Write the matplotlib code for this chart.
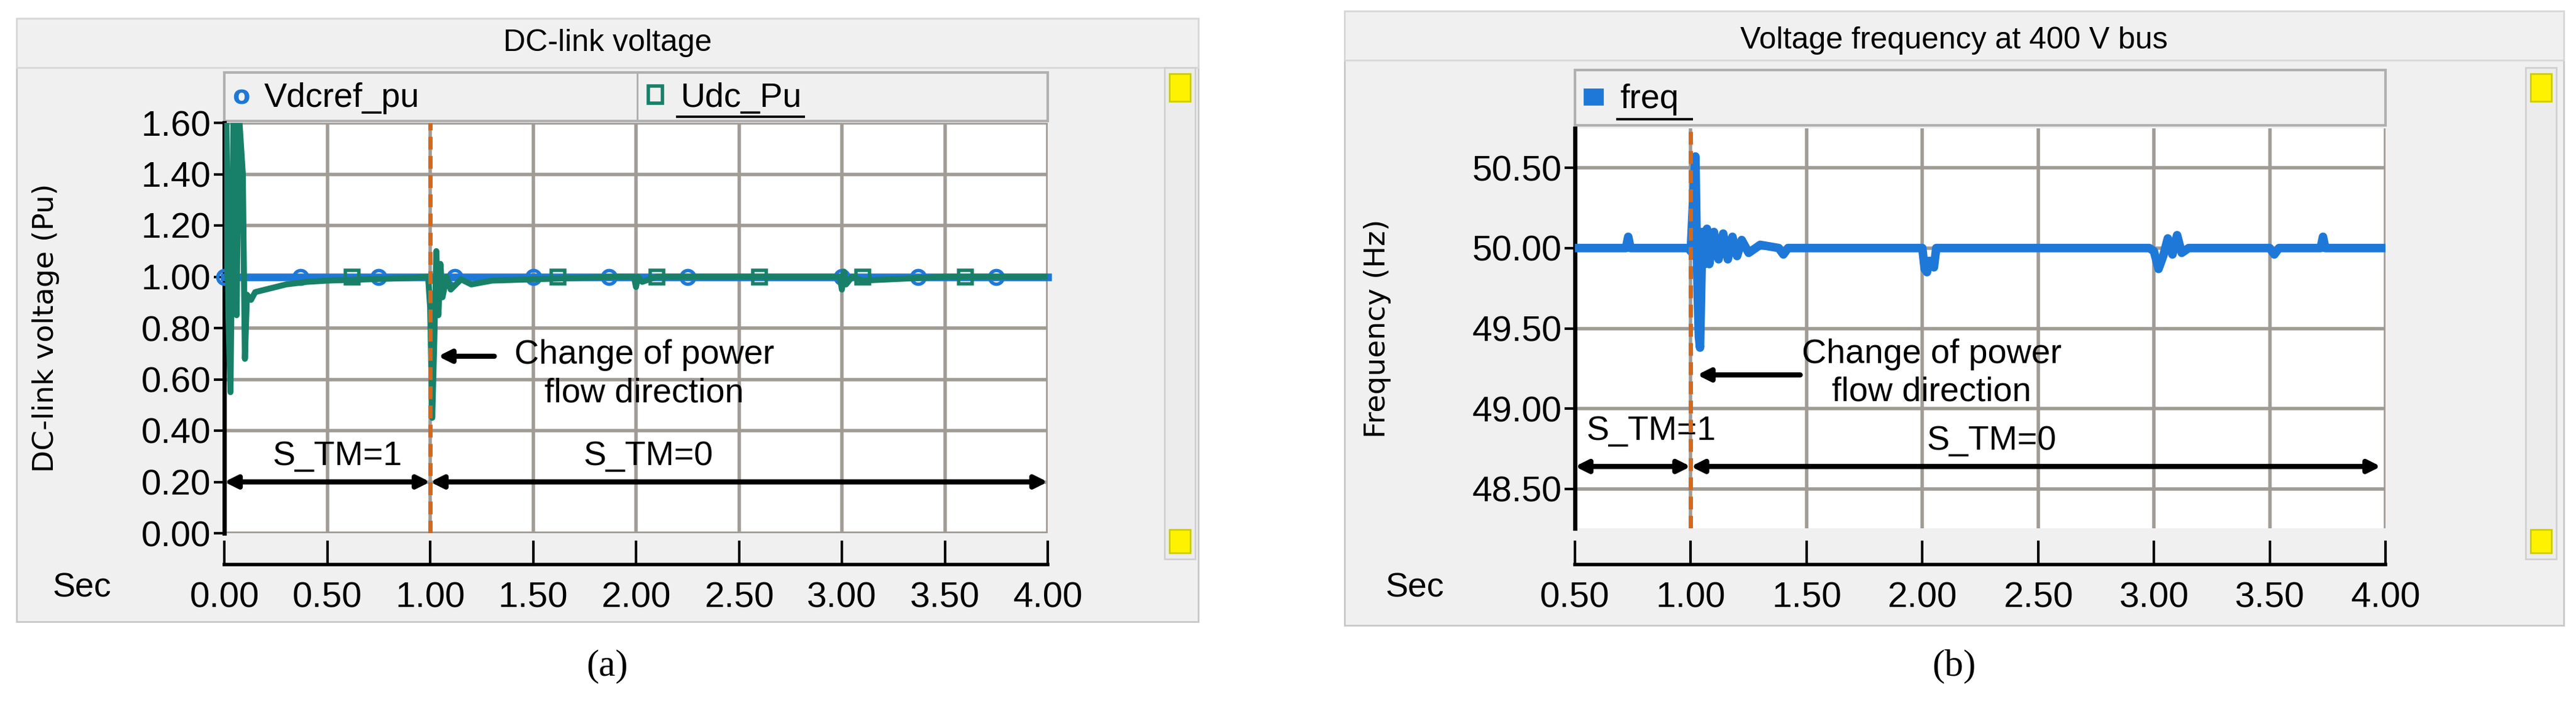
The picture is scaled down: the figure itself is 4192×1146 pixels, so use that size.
import matplotlib
matplotlib.use("Agg")
import matplotlib.pyplot as plt
from matplotlib.patches import Rectangle
import numpy as np

W, H = 4192, 1146
fig = plt.figure(figsize=(W/100, H/100), dpi=100)
fig.patch.set_facecolor("white")

NARROW = ["Liberation Sans", "DejaVu Sans"]
BG = "#f0f0f0"; GRID = "#a19b95"; BLUE = "#1e78d8"; TEAL = "#188068"; ORANGE = "#d2691e"

# ---------------- data ----------------
a_xticks = [0.0, 0.5, 1.0, 1.5, 2.0, 2.5, 3.0, 3.5, 4.0]
a_yticks = [0.0, 0.2, 0.4, 0.6, 0.8, 1.0, 1.2, 1.4, 1.6]
vref_t = [0.0, 4.0]
vref_v = [1.0, 1.0]
vref_mark_t = [0.0, 0.37, 0.75, 1.12, 1.5, 1.87, 2.25, 3.0, 3.37, 3.75]
udc_t = [0.0, 0.01, 0.02, 0.03, 0.045, 0.06, 0.07, 0.09, 0.1, 0.11, 0.13, 0.15, 0.2, 0.25, 0.3, 0.4, 0.5, 0.7, 0.9,
         0.99, 1.0, 1.01, 1.02, 1.03, 1.04, 1.05, 1.06, 1.08, 1.1, 1.15, 1.2, 1.3, 1.5, 1.7, 1.9,
         1.99, 2.0, 2.01, 2.03, 2.1, 2.5, 2.99, 3.0, 3.01, 3.02, 3.05, 3.1, 3.5, 4.0]
udc_v = [1.0, 1.65, 0.85, 0.55, 1.65, 0.85, 1.65, 1.4, 0.68, 0.93, 0.91, 0.94, 0.95, 0.96, 0.97, 0.98, 0.985, 0.99, 0.995,
         1.0, 0.88, 0.45, 0.75, 1.10, 0.85, 1.05, 0.92, 1.0, 0.95, 0.99, 0.97, 0.985, 0.99, 0.995, 1.0,
         1.0, 0.96, 1.0, 0.98, 1.0, 1.0, 1.0, 0.95, 1.02, 0.97, 1.0, 0.985, 1.0, 1.0]
udc_mark_t = [0.62, 1.62, 2.1, 2.6, 3.1, 3.6]

b_xticks = [0.5, 1.0, 1.5, 2.0, 2.5, 3.0, 3.5, 4.0]
b_yticks = [48.5, 49.0, 49.5, 50.0, 50.5]
freq_t = [0.5, 0.72, 0.73, 0.74, 0.99, 1.0, 1.01, 1.02, 1.025, 1.03, 1.035, 1.04, 1.05, 1.06, 1.07, 1.08,
          1.1, 1.12, 1.14, 1.16, 1.18, 1.2, 1.22, 1.25, 1.3, 1.38, 1.4, 1.42, 1.5,
          2.0, 2.01, 2.02, 2.03, 2.05, 2.06, 2.1, 2.98, 3.0, 3.02, 3.04, 3.06, 3.08, 3.1, 3.12, 3.15,
          3.5, 3.52, 3.54, 3.72, 3.73, 3.74, 4.0]
freq_v = [50.0, 50.0, 50.07, 50.0, 50.0, 49.98, 50.3, 50.57, 50.1, 49.7, 49.45, 49.38, 50.1, 49.9, 50.12, 49.9,
          50.1, 49.93, 50.09, 49.93, 50.07, 49.95, 50.05, 49.97, 50.02, 50.0, 49.96, 50.0, 50.0,
          50.0, 49.87, 49.85, 49.92, 49.88, 50.0, 50.0, 50.0, 49.98, 49.87, 49.95, 50.06, 49.96, 50.08, 49.97, 50.0,
          50.0, 49.96, 50.0, 50.0, 50.07, 50.0, 50.0]

def fx(px): return px / W
def fy(py): return 1 - py / H

def box(x0, y0, x1, y1, fc=BG, ec="#c8c8c8", lw=2, z=-10):
    fig.patches.append(Rectangle((fx(x0), fy(y1)), fx(x1) - fx(x0), fy(y0) - fy(y1),
                                 transform=fig.transFigure, facecolor=fc, edgecolor=ec, lw=lw, zorder=z))

def panel(x0, x1, y0, y1, ax_l, ax_r, ax_t, ax_b, leg_t, leg_b, sb_l, title, title_y, sec_x, lbl, lbl_x,
          strip_y, ylabel, ylabel_x):
    box(x0, y0, x1, y1)
    box(x0, y0, x1, y0 + 80, fc=BG, ec="#d8d8d8")
    fig.text(fx((x0 + x1) / 2), fy(title_y), title, ha="center", va="center", fontsize=36, family=NARROW)
    box(sb_l, 110, sb_l + 50, 910, fc="#ececec", ec="#d0d0d0")
    box(sb_l + 8, 120, sb_l + 42, 165, fc="#fff200", ec="#cccc00")
    box(sb_l + 8, 862, sb_l + 42, 900, fc="#fff200", ec="#cccc00")
    box(ax_l, leg_t, ax_r, leg_b, fc=BG, ec="#b0b0b0", lw=3)
    ax = fig.add_axes([fx(ax_l), fy(ax_b), fx(ax_r) - fx(ax_l), fy(ax_t) - fy(ax_b)])
    ax.set_zorder(5)
    ax.set_facecolor("white")
    sx = fig.add_axes([fx(ax_l), fy(strip_y + 2), fx(ax_r) - fx(ax_l), 0.001])
    sx.set_zorder(5)
    sx.set_facecolor("none")
    for s in ["top", "left", "right"]:
        sx.spines[s].set_visible(False)
    sx.spines["bottom"].set_linewidth(4)
    sx.set_yticks([])
    sx.tick_params(axis="x", direction="in", length=28, width=3, labelsize=42, pad=20)
    fig.text(fx(sec_x), fy(strip_y + 40), "Sec", fontsize=40, family=NARROW, ha="center", va="center")
    fig.text(fx((x0 + x1) / 2), fy(1085), lbl, fontsize=44, family="Liberation Serif", ha="center", va="center")
    fig.text(fx(ylabel_x), fy((ax_t + ax_b) / 2), ylabel, rotation=90, fontsize=34, ha="center", va="center")
    for s in ["top", "right"]:
        ax.spines[s].set_visible(False)
    ax.spines["left"].set_linewidth(5); ax.spines["bottom"].set_visible(False)
    ax.grid(True, color=GRID, lw=4)
    ax.set_axisbelow(True)
    ax.tick_params(axis="y", direction="out", length=12, width=3, labelsize=42)
    ax.tick_params(axis="x", length=0, labelbottom=False)
    return ax, sx

# ---------------- panel a ----------------
axa, sxa = panel(27, 1950, 30, 1012, 365, 1705, 200, 868, 118, 197, 1895,
                 "DC-link voltage", 70, 133, "(a)", 996, 917, "DC-link voltage (Pu)", 75)
for ax in (axa, sxa):
    ax.set_xlim(0, 4.0)
    ax.set_xticks(a_xticks)
sxa.set_xticklabels([f"{v:.2f}" for v in a_xticks], family=NARROW)
axa.set_ylim(0, 1.6)
axa.set_yticks(a_yticks)
axa.set_yticklabels([f"{v:.2f}" for v in a_yticks], family=NARROW)
axa.plot(vref_t, vref_v, color=BLUE, lw=9, zorder=3, clip_on=False)
axa.plot(vref_mark_t, [1.0] * len(vref_mark_t), ls="none", marker="o", ms=16, mfc="none", mec=BLUE, mew=4, zorder=4, clip_on=False)
axa.plot(udc_t, udc_v, color=TEAL, lw=7, zorder=5)
axa.plot(udc_mark_t, [1.0] * len(udc_mark_t), ls="none", marker="s", ms=16, mfc="none", mec=TEAL, mew=4, zorder=6)
axa.axvline(1.0, color=ORANGE, ls=(0, (3, 1.5)), lw=5, zorder=7)
axa.annotate("", xy=(1.03, 0.69), xytext=(1.32, 0.69), arrowprops=dict(arrowstyle="-|>,head_width=0.6,head_length=1.2", lw=6, color="black"))
axa.text(2.04, 0.62, "Change of power\nflow direction", fontsize=40, family=NARROW, ha="center", va="center", linespacing=1.25)
axa.text(0.55, 0.30, "S_TM=1", fontsize=40, family=NARROW, ha="center", va="center")
axa.text(2.06, 0.30, "S_TM=0", fontsize=40, family=NARROW, ha="center", va="center")
for a0, a1 in [(0.0, 1.0), (1.0, 4.0)]:
    axa.annotate("", xy=(a0, 0.2), xytext=(a1, 0.2), arrowprops=dict(arrowstyle="<|-|>,head_width=0.6,head_length=1.2", lw=6, color="black", shrinkA=0, shrinkB=0))
fig.text(fx(392), fy(158), "o", color=BLUE, fontsize=30, ha="center", va="center", fontweight="bold")
fig.text(fx(430), fy(160), "Vdcref_pu", fontsize=40, family=NARROW, va="center")
box(1036, 118, 1039, 197, fc="#b0b0b0", ec="#b0b0b0", lw=0, z=-5)
box(1055, 140, 1078, 168, fc="none", ec=TEAL, lw=4, z=-5)
fig.text(fx(1108), fy(160), "Udc_Pu", fontsize=40, family=NARROW, va="center")
box(1100, 188, 1310, 192, fc="black", ec="black", lw=0, z=-5)

# ---------------- panel b ----------------
axb, sxb = panel(2188, 4172, 18, 1018, 2563, 3882, 209, 860, 114, 204, 4110,
                 "Voltage frequency at 400 V bus", 66, 2302, "(b)", 3180, 917, "Frequency (Hz)", 2242)
for ax in (axb, sxb):
    ax.set_xlim(0.5, 4.0)
    ax.set_xticks(b_xticks)
sxb.set_xticklabels([f"{v:.2f}" for v in b_xticks], family=NARROW)
axb.set_ylim(48.255, 50.745)
axb.set_yticks(b_yticks)
axb.set_yticklabels([f"{v:.2f}" for v in b_yticks], family=NARROW)
axb.plot(freq_t, freq_v, color=BLUE, lw=10, zorder=3)
axb.axvline(1.0, color=ORANGE, ls=(0, (3, 1.5)), lw=5, zorder=7)
axb.annotate("", xy=(1.02, 49.21), xytext=(1.48, 49.21), arrowprops=dict(arrowstyle="-|>,head_width=0.6,head_length=1.2", lw=6, color="black"))
axb.text(2.04, 49.22, "Change of power\nflow direction", fontsize=40, family=NARROW, ha="center", va="center", linespacing=1.25)
axb.text(0.83, 48.86, "S_TM=1", fontsize=40, family=NARROW, ha="center", va="center")
axb.text(2.30, 48.80, "S_TM=0", fontsize=40, family=NARROW, ha="center", va="center")
for a0, a1 in [(0.5, 1.0), (1.0, 3.98)]:
    axb.annotate("", xy=(a0, 48.64), xytext=(a1, 48.64), arrowprops=dict(arrowstyle="<|-|>,head_width=0.6,head_length=1.2", lw=6, color="black", shrinkA=0, shrinkB=0))
box(2578, 145, 2608, 170, fc=BLUE, ec=BLUE, z=-5)
fig.text(fx(2636), fy(162), "freq", fontsize=40, family=NARROW, va="center")
box(2630, 192, 2755, 196, fc="black", ec="black", lw=0, z=-5)

fig.savefig("out.png", dpi=100)
